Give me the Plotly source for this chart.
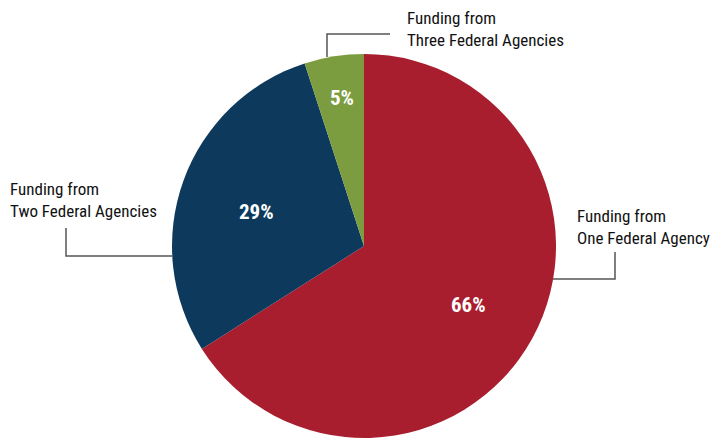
import plotly.graph_objects as go

# Share of awards by number of federal funding agencies
categories = ["Funding from<br>One Federal Agency",
              "Funding from<br>Two Federal Agencies",
              "Funding from<br>Three Federal Agencies"]
shares = [66, 29, 5]
colors = ["#A91E2E", "#0D3A5C", "#7C9C40"]

W, H = 712, 440
FONT = "Roboto Condensed, DejaVu Sans Condensed, sans-serif"
label_font = dict(family=FONT, size=17, color="#111111")
pct_font = dict(family=FONT, size=21, color="white", weight="bold")

fig = go.Figure(go.Pie(
    labels=categories,
    values=shares,
    marker=dict(colors=colors, line=dict(width=0)),
    sort=False,
    direction="clockwise",
    rotation=0,
    textinfo="none",
    hoverinfo="label+percent",
    showlegend=False,
    domain=dict(x=[(364 - 192) / W, (364 + 192) / W], y=[2 / H, 386 / H]),
))

# Percentage labels placed inside each slice
pct_pos = [(468, 305), (256, 212), (342, 98)]
for v, (px, py) in zip(shares, pct_pos):
    fig.add_annotation(x=px / W, y=1 - py / H, text=f"{v}%", showarrow=False,
                       xanchor="center", yanchor="middle", font=pct_font)

# Callout labels
callouts = [(575, 204), (8, 177), (405, 6)]
for text, (lx, ly) in zip(categories, callouts):
    fig.add_annotation(x=lx / W, y=1 - ly / H, text=text, showarrow=False,
                       xanchor="left", yanchor="top", align="left", font=label_font)

# Leader lines
line_style = dict(color="#555555", width=1.5)
leaders = [
    [(553, 279), (615, 279), (615, 252)],
    [(172, 256), (66, 256), (66, 228)],
    [(327, 57), (327, 34), (390, 34)],
]
for pts in leaders:
    path = "M " + " L ".join(f"{x / W},{1 - y / H}" for x, y in pts)
    fig.add_shape(type="path", path=path, xref="paper", yref="paper", line=line_style)

fig.update_layout(width=W, height=H, margin=dict(l=0, r=0, t=0, b=0),
                  paper_bgcolor="white", plot_bgcolor="white")

fig.write_html("out.html")
